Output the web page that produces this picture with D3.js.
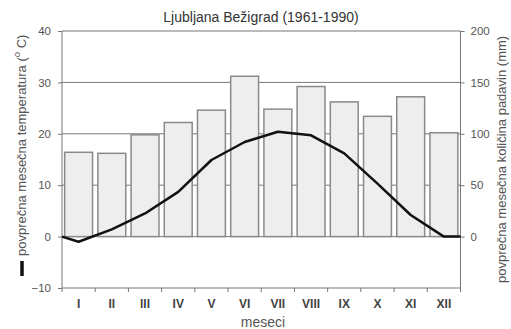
<!DOCTYPE html>
<html>
<head>
<meta charset="utf-8">
<script src="https://cdn.jsdelivr.net/npm/d3@7"></script>
<style>
  html, body { margin: 0; padding: 0; background: #fff; }
  svg { display: block; font-family: "Liberation Sans", Arial, sans-serif; }
</style>
</head>
<body>
<svg id="chart" width="511" height="329"></svg>
<script>
// Monthly climate normals, Ljubljana Bežigrad 1961-1990
const months = ["I", "II", "III", "IV", "V", "VI", "VII", "VIII", "IX", "X", "XI", "XII"];
const precipitation = [82, 81, 99, 111, 123, 156, 124, 146, 131, 117, 136, 101]; // mm
const temperature = [-1.0, 1.4, 4.5, 8.7, 14.9, 18.4, 20.4, 19.7, 16.2, 10.3, 4.2, 0.0]; // °C
const temperatureEdge = [0, 0]; // curve anchors at the left and right plot edges
const tempTicks = [-10, 0, 10, 20, 30, 40];
const precipTicks = [0, 50, 100, 150, 200];

const svg = d3.select("#chart");
const plotL = 62, plotR = 460.5, plotT = 31, plotB = 288;
const textColor = "#555";
const axisColor = "#777";

const x = d3.scaleBand().domain(months).range([plotL, plotR])
  .paddingInner(0.16).paddingOuter(0.08);
const yT = d3.scaleLinear().domain([-10, 40]).range([plotB, plotT]);
const yP = d3.scaleLinear().domain([-50, 200]).range([plotB, plotT]);

// Horizontal gridlines (behind the bars)
svg.append("g").selectAll("line").data([0, 10, 20, 30, 40]).join("line")
  .attr("x1", plotL).attr("x2", plotR)
  .attr("y1", d => yT(d)).attr("y2", d => yT(d))
  .attr("stroke", axisColor).attr("stroke-width", 1);

// Precipitation bars
svg.append("g").selectAll("rect").data(precipitation).join("rect")
  .attr("x", (d, i) => x(months[i]))
  .attr("y", d => yP(d))
  .attr("width", x.bandwidth())
  .attr("height", d => yP(0) - yP(d))
  .attr("fill", "#eeeeee")
  .attr("stroke", "#8a8a8a")
  .attr("stroke-width", 1.5);

// Left axis (temperature)
const axL = svg.append("g").attr("transform", `translate(${plotL},0)`)
  .call(d3.axisLeft(yT).tickValues(tempTicks).tickSize(4).tickPadding(7));
// Right axis (precipitation)
const axR = svg.append("g").attr("transform", `translate(${plotR},0)`)
  .call(d3.axisRight(yP).tickValues(precipTicks).tickSize(4).tickPadding(6));
// Bottom axis with ticks at month boundaries
const step = x.step();
const boundaries = d3.range(months.length + 1).map(i => x(months[0]) - x.paddingOuter() * step + i * step);
const axB = svg.append("g").attr("transform", `translate(0,${plotB})`);
axB.append("line").attr("x1", plotL).attr("x2", plotR).attr("y1", 0).attr("y2", 0);
axB.selectAll("line.tk").data(boundaries).join("line").attr("class", "tk")
  .attr("x1", d => d).attr("x2", d => d).attr("y1", 0).attr("y2", 4);
axB.selectAll("text").data(months).join("text")
  .attr("x", d => x(d) + x.bandwidth() / 2).attr("y", 20)
  .attr("text-anchor", "middle")
  .attr("font-weight", "bold").attr("font-size", 12)
  .attr("fill", "#444").text(d => d);
axB.selectAll("line").attr("stroke", axisColor);

[axL, axR].forEach(a => {
  a.select(".domain").attr("stroke", axisColor).attr("d", `M0,${plotB}V${plotT}`);
  a.selectAll(".tick line").attr("stroke", axisColor);
  a.selectAll(".tick text").attr("fill", textColor).attr("font-size", 11.5)
    .attr("font-family", "Liberation Sans, Arial, sans-serif");
});

// Temperature curve
const linePts = [[plotL, temperatureEdge[0]]]
  .concat(temperature.map((t, i) => [x(months[i]) + x.bandwidth() / 2, t]))
  .concat([[plotR, temperatureEdge[1]]]);
svg.append("path").datum(linePts)
  .attr("d", d3.line().x(d => d[0]).y(d => yT(d[1])))
  .attr("fill", "none").attr("stroke", "#111").attr("stroke-width", 2.5)
  .attr("stroke-linejoin", "round");

// Title
svg.append("text").attr("x", 261).attr("y", 22).attr("text-anchor", "middle")
  .attr("font-size", 14).attr("fill", "#333").text("Ljubljana Bežigrad (1961-1990)");

// X axis title
svg.append("text").attr("x", 263).attr("y", 327).attr("text-anchor", "middle")
  .attr("font-size", 14).attr("fill", textColor).text("meseci");

// Left axis title with line legend mark
const lt = svg.append("g").attr("transform", "translate(26,256) rotate(-90)");
lt.append("line").attr("x1", -20).attr("x2", -5).attr("y1", -4).attr("y2", -4)
  .attr("stroke", "#111").attr("stroke-width", 3.5);
const ltText = lt.append("text").attr("x", 0).attr("y", 0)
  .attr("font-size", 13).attr("fill", textColor);
ltText.append("tspan").text("povprečna mesečna temperatura (");
ltText.append("tspan").attr("dy", -6).attr("font-size", 9.5).text("o");
ltText.append("tspan").attr("dy", 6).text(" C)");

// Right axis title
svg.append("text").attr("transform", "translate(506,283) rotate(-90)")
  .attr("font-size", 13).attr("fill", textColor)
  .text("povprečna mesečna količina padavin (mm)");
</script>
</body>
</html>
